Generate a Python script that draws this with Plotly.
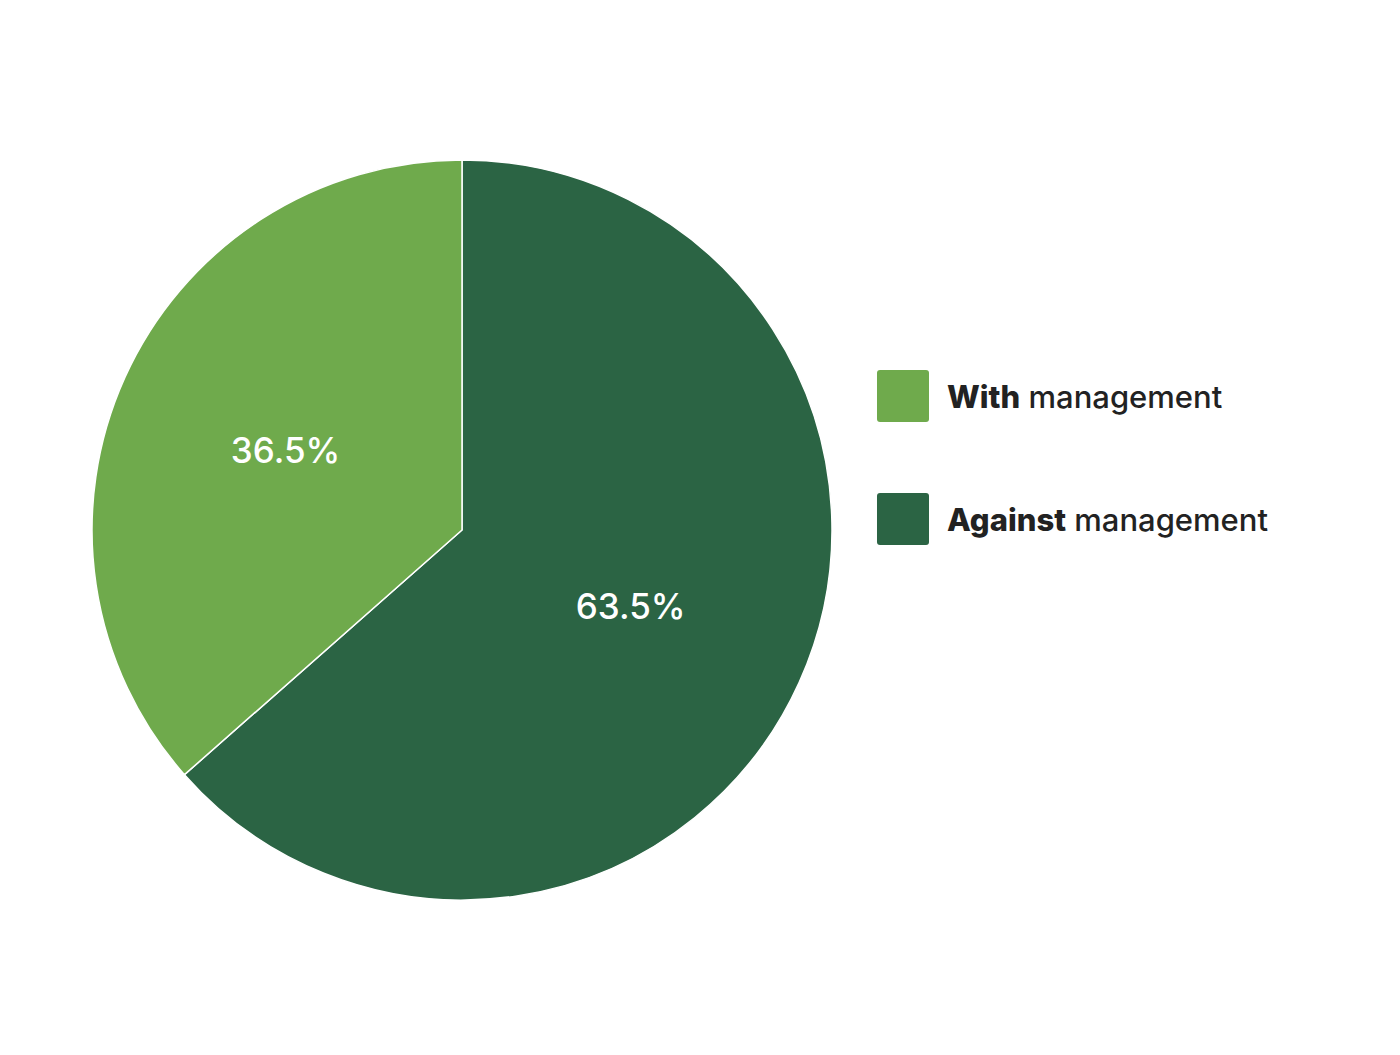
import plotly.graph_objects as go

labels = ["With management", "Against management"]
bold_part = ["With", "Against"]
rest_part = ["management", "management"]
values = [36.5, 63.5]
colors = ["#6FAA4C", "#2B6444"]

W, H = 1400, 1055
OFF = 8  # default page body margin
cx, cy, R = 462 - OFF, 530 - OFF, 370

fig = go.Figure()
# slices drawn clockwise from 12 o'clock: Against first, then With (ends at 12 o'clock on the left)
fig.add_trace(go.Pie(
    labels=labels[::-1],
    values=values[::-1],
    sort=False,
    direction="clockwise",
    rotation=0,
    marker=dict(colors=colors[::-1], line=dict(color="white", width=1.5)),
    texttemplate="%{value:.1f}%",
    textposition="inside",
    insidetextorientation="horizontal",
    textfont=dict(family="Inter", size=35, color="white", weight=500),
    hoverinfo="label+percent",
    showlegend=False,
    domain=dict(x=[(cx - R) / W, (cx + R) / W],
                y=[(H - cy - R) / H, (H - cy + R) / H]),
))

# custom legend with rounded squares
leg_x0, leg_size, rad = 877 - OFF, 52, 3
leg_y = [396 - OFF, 519 - OFF]


def px(x):
    return x / W


def py(y):
    return 1 - y / H


for i, lab in enumerate(labels):
    yc = leg_y[i]
    x0, x1 = leg_x0, leg_x0 + leg_size
    y0, y1 = yc - leg_size / 2, yc + leg_size / 2
    pts = [
        ("M", x0 + rad, y0), ("L", x1 - rad, y0), ("Q", x1, y0, x1, y0 + rad),
        ("L", x1, y1 - rad), ("Q", x1, y1, x1 - rad, y1),
        ("L", x0 + rad, y1), ("Q", x0, y1, x0, y1 - rad),
        ("L", x0, y0 + rad), ("Q", x0, y0, x0 + rad, y0),
    ]
    path = ""
    for p in pts:
        cmd = p[0]
        coords = p[1:]
        segs = []
        for j in range(0, len(coords), 2):
            segs.append(f"{px(coords[j]):.6f},{py(coords[j+1]):.6f}")
        path += cmd + " ".join(segs) + " "
    path += "Z"
    fig.add_shape(type="path", xref="paper", yref="paper", path=path,
                  fillcolor=colors[i], line=dict(width=0), layer="above")
    fig.add_annotation(xref="paper", yref="paper", x=(945 - OFF) / W, y=1 - yc / H,
                       xanchor="left", yanchor="middle", showarrow=False,
                       text=f"<span style='font-weight:800'>{bold_part[i]}</span> {rest_part[i]}",
                       font=dict(family="Inter", size=31, color="#222222", weight=500))

fig.update_layout(
    width=W, height=H,
    margin=dict(l=0, r=0, t=0, b=0),
    paper_bgcolor="white", plot_bgcolor="white",
)
fig.write_html("out.html")
